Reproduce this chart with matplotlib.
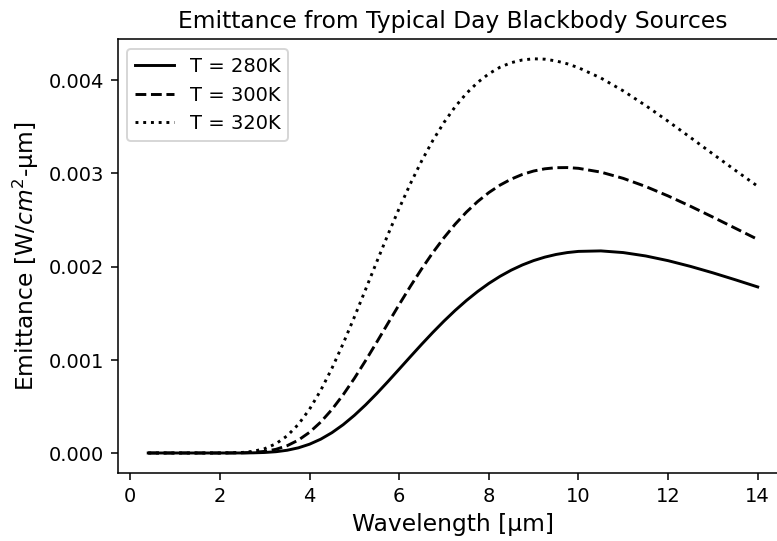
import matplotlib
matplotlib.use("Agg")
import matplotlib.pyplot as plt

# Wavelength samples [µm]
wavelength = [0.4, 1.0, 1.5, 2.0, 2.5, 2.75, 3.0, 3.25, 3.5, 3.75, 4.0, 4.25,
              4.5, 4.75, 5.0, 5.25, 5.5, 5.75, 6.0, 6.25, 6.5, 6.75, 7.0,
              7.25, 7.5, 7.75, 8.0, 8.25, 8.5, 8.75, 9.0, 9.25, 9.5, 9.75,
              10.0, 10.5, 11.0, 11.5, 12.0, 12.5, 13.0, 13.5, 14.0]

# Spectral emittance [1e-3 W/cm^2-µm]
emit_280 = [0.0, 0.0, 0.0, 0.0, 0.0004, 0.0018, 0.0055, 0.0137, 0.0294, 0.0553,
            0.0944, 0.1484, 0.2183, 0.3038, 0.4039, 0.5161, 0.6381, 0.7671,
            0.8999, 1.0336, 1.1657, 1.2937, 1.4158, 1.5305, 1.6364, 1.7329,
            1.8197, 1.8960, 1.9623, 2.0184, 2.0649, 2.1021, 2.1306, 2.1509,
            2.1636, 2.1689, 2.1509, 2.1147, 2.0641, 2.0026, 1.9335, 1.8591,
            1.7821]
emit_300 = [0.0, 0.0, 0.0, 0.0, 0.0018, 0.0062, 0.0172, 0.0394, 0.0781, 0.1380,
            0.2222, 0.3323, 0.4673, 0.6250, 0.8012, 0.9913, 1.1899, 1.3921,
            1.5932, 1.7886, 1.9750, 2.1498, 2.3107, 2.4562, 2.5855, 2.6983,
            2.7948, 2.8750, 2.9394, 2.9900, 3.0262, 3.0500, 3.0620, 3.0633,
            3.0552, 3.0145, 2.9473, 2.8601, 2.7589, 2.6480, 2.5315, 2.4121,
            2.2923]
emit_320 = [0.0, 0.0, 0.0, 0.0, 0.0058, 0.0185, 0.0467, 0.0992, 0.1840, 0.3069,
            0.4702, 0.6727, 0.9097, 1.1747, 1.4592, 1.7547, 2.0524, 2.3449,
            2.6259, 2.8902, 3.1335, 3.3533, 3.5476, 3.7166, 3.8591, 3.9765,
            4.0698, 4.1402, 4.1892, 4.2184, 4.2306, 4.2265, 4.2077, 4.1771,
            4.1351, 4.0246, 3.8862, 3.7290, 3.5605, 3.3858, 3.2091, 3.0339,
            2.8624]

series_labels = ["T = 280K", "T = 300K", "T = 320K"]

DPI = 140
# a hair over the pixel size so the canvas is not truncated by one pixel
fig = plt.figure(figsize=(777.2 / DPI, 541.2 / DPI), dpi=DPI)
# the plot area runs up to the right edge of the canvas
ax = fig.add_axes([0.1515, 0.1262, 0.8485, 0.8012])

scale = 1e-3
ax.plot(wavelength, [v * scale for v in emit_280], color="black", linestyle="-",
        label=series_labels[0])
ax.plot(wavelength, [v * scale for v in emit_300], color="black", linestyle="--",
        label=series_labels[1])
ax.plot(wavelength, [v * scale for v in emit_320], color="black", linestyle=":",
        label=series_labels[2])

ax.set_xlim(-0.28, 14.435)
ax.spines["right"].set_visible(False)

ax.set_xticks([0, 2, 4, 6, 8, 10, 12, 14])
ax.set_yticks([0.0, 0.001, 0.002, 0.003, 0.004])
ax.set_yticklabels(["0.000", "0.001", "0.002", "0.003", "0.004"])

ax.set_title("Emittance from Typical Day Blackbody Sources", fontsize=12,
             x=0.508)
ax.set_xlabel("Wavelength [µm]", fontsize=12, x=0.508)
ax.set_ylabel("Emittance [W/$cm^2$-µm]", fontsize=12)
ax.legend(loc="upper left", fontsize=10)

fig.savefig("out.png", dpi=DPI)
